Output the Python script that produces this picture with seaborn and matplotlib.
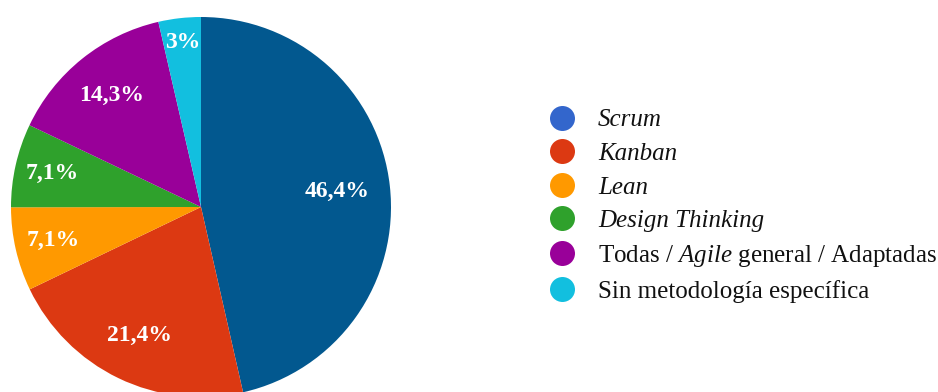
import matplotlib
matplotlib.use("Agg")
import matplotlib.pyplot as plt
from matplotlib.lines import Line2D
import numpy as np
import seaborn as sns

categories = ["Scrum", "Kanban", "Lean", "Design Thinking",
              "Todas / $\\mathit{Agile}$ general / Adaptadas",
              "Sin metodología específica"]
values = [46.4, 21.4, 7.1, 7.1, 14.3, 3.6]
value_labels = ["46,4%", "21,4%", "7,1%", "7,1%", "14,3%", "3%"]
italic_flags = [True, True, True, True, False, False]

slice_colors = ["#02588F", "#DC3912", "#FF9900", "#2FA12C", "#990099", "#12BFDF"]
legend_colors = ["#3366CC", "#DC3912", "#FF9900", "#2FA12C", "#990099", "#12BFDF"]
label_dist = [0.72, 0.75, 0.80, 0.80, 0.75, 0.87]

sns.set_theme(style="white")
plt.rcParams["font.family"] = ["Liberation Serif", "DejaVu Serif"]
plt.rcParams["mathtext.fontset"] = "custom"
plt.rcParams["mathtext.rm"] = "Liberation Serif"
plt.rcParams["mathtext.it"] = "Liberation Serif:italic"

W, H = 938, 392
fig = plt.figure(figsize=(W / 100, H / 100), dpi=100)
fig.patch.set_facecolor("white")

cx, cy, r = 201, 392 - 207, 190
ax = fig.add_axes([(cx - r) / W, (cy - r) / H, 2 * r / W, 2 * r / H])
wedges, _ = ax.pie(values, colors=slice_colors, startangle=90, counterclock=False,
                   wedgeprops=dict(linewidth=0))
ax.set_xlim(-1, 1)
ax.set_ylim(-1, 1)
ax.set_aspect("equal")
ax.axis("off")

for w, lab, d in zip(wedges, value_labels, label_dist):
    ang = np.deg2rad((w.theta1 + w.theta2) / 2)
    ax.text(d * np.cos(ang), d * np.sin(ang), lab, ha="center", va="center",
            color="white", fontsize=17, fontweight="bold")

handles = [Line2D([0], [0], marker="o", linestyle="none", markersize=18,
                  markerfacecolor=c, markeredgewidth=0) for c in legend_colors]
leg = fig.legend(handles, categories, loc="upper left",
                 bbox_to_anchor=(547 / W, 1 - 109 / H), frameon=False,
                 fontsize=18, labelspacing=0.44, handletextpad=0.84,
                 handlelength=1.2, borderaxespad=0, borderpad=0)
for t, it in zip(leg.get_texts(), italic_flags):
    if it:
        t.set_fontstyle("italic")
    t.set_color("#111111")

fig.savefig("out.png", dpi=100, facecolor="white")
